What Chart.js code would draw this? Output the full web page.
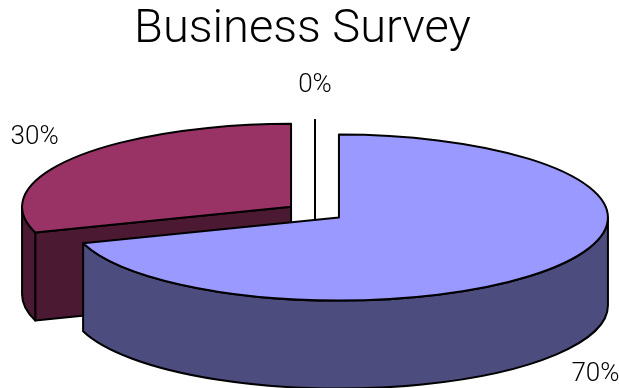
<!DOCTYPE html>
<html>
<head>
<meta charset="utf-8">
<title>Business Survey</title>
<script src="https://cdn.jsdelivr.net/npm/chart.js@4"></script>
<style>
  html, body { margin: 0; padding: 0; background: #fff; }
  #wrap { width: 619px; height: 388px; position: relative; }
</style>
</head>
<body>
<div id="wrap"><canvas id="chart_businessSurvey"></canvas></div>
<script>
const chartTitle = 'Business Survey';
const categories = ['Category 1', 'Category 2', 'Category 3'];
const surveyValues = [70, 30, 0];
const topColors = ['#9999FF', '#993366', '#FFFFCC'];
const sideColors = ['#4C4C7F', '#4C1933', '#7F7F66'];

// fake 3d pie: squash the library's arcs into an ellipse and add walls under them
const pie3d = {
    id: 'pie3d',
    beforeDatasetsDraw(chart, args, opts) {
        const ctx = chart.ctx;
        const arcs = chart.getDatasetMeta(0).data;
        const total = surveyValues.reduce((a, b) => a + b, 0);
        const d = opts.depth;

        function geom(el) {
            const R = el.outerRadius;
            const sx = opts.radiusX / R;
            const sy = opts.radiusY / R;
            const mid = (el.startAngle + el.endAngle) / 2;
            return {
                sx: sx, sy: sy, mid: mid,
                cx: el.x + opts.shiftX + Math.cos(mid) * R * opts.explode * sx,
                cy: el.y + Math.sin(mid) * R * opts.explode * sy,
                rx: opts.radiusX, ry: opts.radiusY
            };
        }

        ctx.save();
        ctx.lineWidth = opts.lineWidth;
        ctx.strokeStyle = '#000';
        ctx.lineJoin = 'round';

        // walls, back to front
        const order = arcs.map((el, i) => i).sort(function (a, b) {
            return Math.sin(geom(arcs[a]).mid) - Math.sin(geom(arcs[b]).mid);
        });
        order.forEach(function (i) {
            const el = arcs[i];
            const g = geom(el);
            const s = el.startAngle, e = el.endAngle;
            ctx.fillStyle = sideColors[i];

            const faces = [];
            if (Math.cos(s) < -1e-6 || e - s === 0) faces.push(s);
            if (Math.cos(e) > 1e-6) faces.push(e);
            faces.forEach(function (a) {
                const px = g.cx + Math.cos(a) * g.rx;
                const py = g.cy + Math.sin(a) * g.ry;
                ctx.beginPath();
                ctx.moveTo(g.cx, g.cy);
                ctx.lineTo(px, py);
                ctx.lineTo(px, py + d);
                ctx.lineTo(g.cx, g.cy + d);
                ctx.closePath();
                ctx.fill();
                ctx.stroke();
            });

            const a0 = Math.max(s, 0), a1 = Math.min(e, Math.PI);
            if (a1 > a0) {
                ctx.beginPath();
                ctx.ellipse(g.cx, g.cy, g.rx, g.ry, 0, a0, a1);
                ctx.lineTo(g.cx + Math.cos(a1) * g.rx, g.cy + Math.sin(a1) * g.ry + d);
                ctx.ellipse(g.cx, g.cy + d, g.rx, g.ry, 0, a1, a0, true);
                ctx.closePath();
                ctx.fill();
                ctx.stroke();
            }
        });

        // top faces drawn by the arc elements themselves
        arcs.forEach(function (el) {
            const g = geom(el);
            ctx.save();
            ctx.translate(g.cx, g.cy);
            ctx.scale(g.sx, g.sy);
            ctx.translate(-el.x, -el.y);
            el.draw(ctx);
            ctx.restore();

            ctx.beginPath();
            ctx.moveTo(g.cx, g.cy);
            ctx.ellipse(g.cx, g.cy, g.rx, g.ry, 0, el.startAngle, el.endAngle);
            ctx.closePath();
            ctx.stroke();
        });

        // percent labels outside the rim
        ctx.fillStyle = '#000';
        ctx.font = opts.labelFont;
        ctx.textAlign = 'center';
        ctx.textBaseline = 'middle';
        arcs.forEach(function (el, i) {
            const g = geom(el);
            const c = Math.cos(g.mid), sn = Math.sin(g.mid);
            const text = Math.round(surveyValues[i] / total * 100) + '%';
            const hw = ctx.measureText(text).width / 2;
            const px = g.cx + c * g.rx;
            const py = g.cy + sn * g.ry + (sn > 0 ? d : 0);
            ctx.fillText(text, px + c * (opts.labelGap + hw), py + sn * (opts.labelGap + opts.labelHalfHeight));
        });

        ctx.restore();
        return false;
    }
};

const data = {
    labels: categories,
    datasets: [{
        label: 'Survey',
        data: surveyValues,
        backgroundColor: topColors,
        borderWidth: 0
    }]
};

const config = {
    type: 'pie',
    data: data,
    options: {
        responsive: true,
        maintainAspectRatio: false,
        animation: false,
        layout: { padding: { top: 0, bottom: 22, left: 0, right: 14 } },
        plugins: {
            legend: { display: false },
            tooltip: { enabled: false },
            title: {
                display: true,
                text: chartTitle,
                color: '#000',
                font: { family: 'Roboto', size: 47, weight: 300 },
                padding: { top: 2, bottom: 0 }
            },
            pie3d: {
                radiusX: 269,
                radiusY: 83,
                depth: 88,
                explode: 0.11,
                shiftX: 12.5,
                lineWidth: 2,
                labelFont: '300 26px Roboto',
                labelGap: 24,
                labelHalfHeight: 11
            }
        }
    },
    plugins: [pie3d]
};

const myChart = new Chart(document.getElementById('chart_businessSurvey'), config);
</script>
</body>
</html>
